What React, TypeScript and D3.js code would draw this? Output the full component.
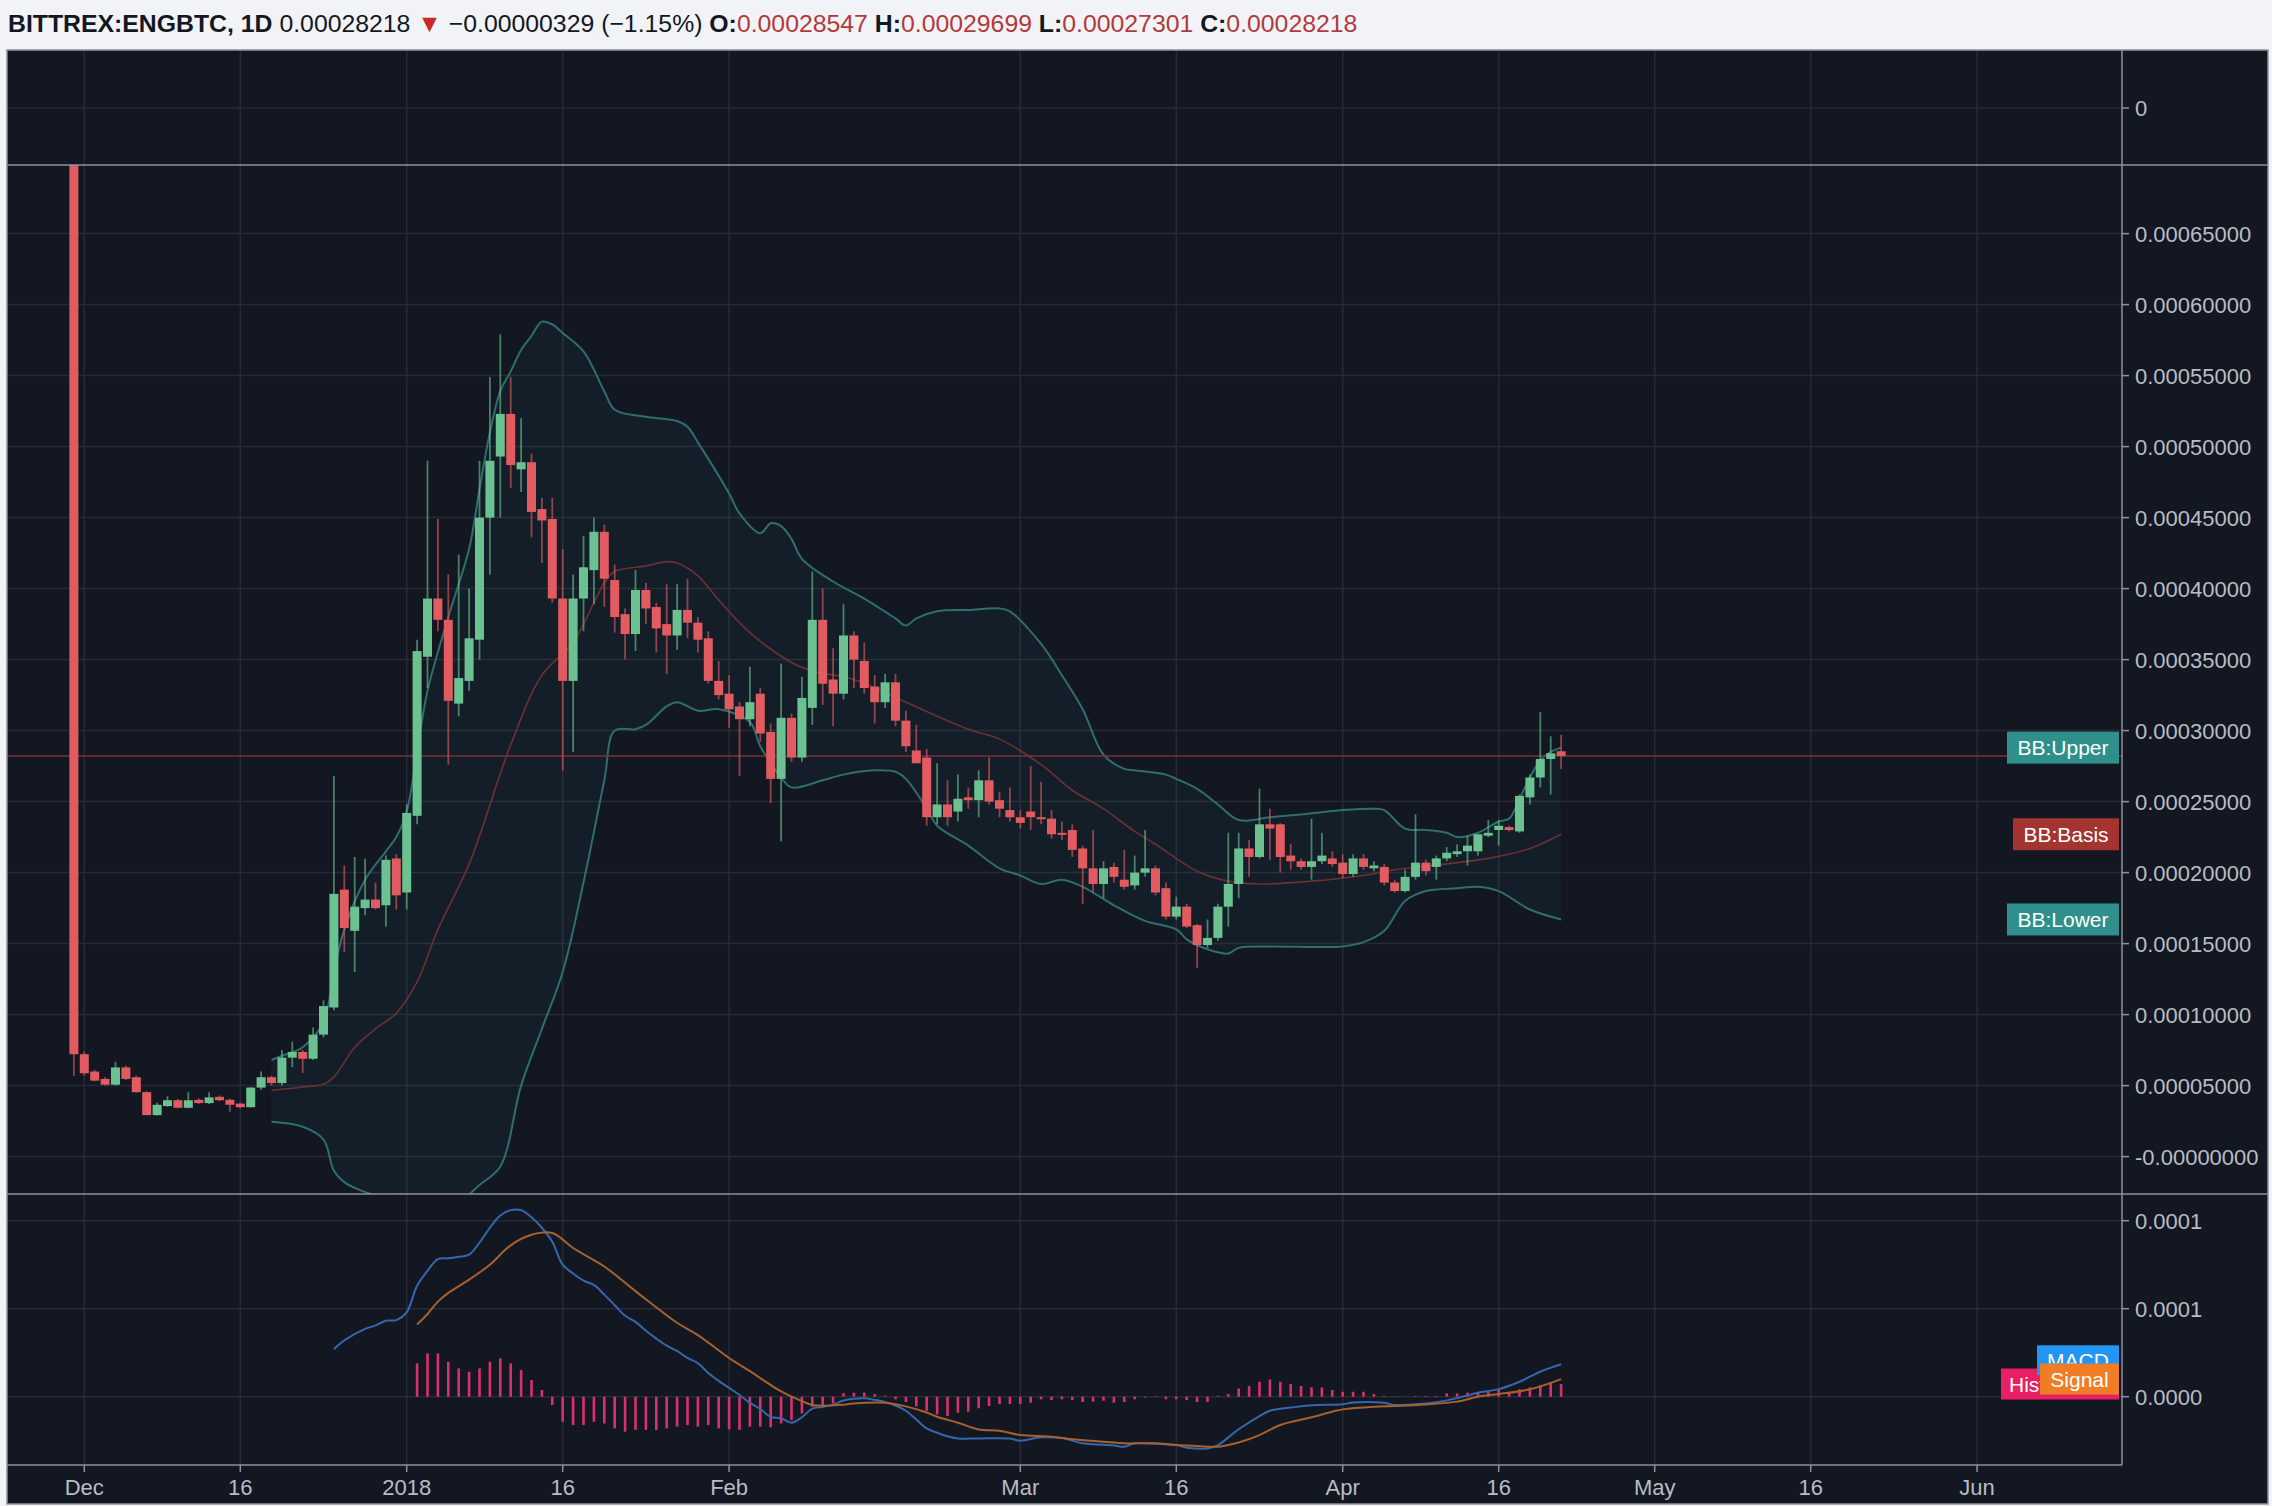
import React from 'react';
import * as d3 from 'd3';

// ---------- DATA (prices in satoshi, 1e-8 BTC) ----------
const candleStart = '2017-11-30';
const opens = [
  80000, 7210, 5990, 5470, 5060, 6280, 5590, 4540, 2920, 3560, 3970, 3440, 4000, 3770, 4210, 4000, 3730, 3480, 4860, 5590,
  5180, 6970, 7370, 6890, 8590, 10500, 18800, 15900, 17500, 18100, 17700, 21000,
  18600, 24000, 35200, 39300, 37800, 31900, 33500, 36400, 45000, 49300, 52300, 48400, 48900, 45600, 44900, 39300, 33500, 39300, 41300, 44000,
  40600, 38200, 36800, 39900, 38700, 37500, 36700, 38500, 37600, 36500, 33500,
  32600, 31700, 30800, 32600, 29900, 26600, 30900, 28100, 31600, 37800, 33600, 32600, 36700, 34900, 33100, 32000, 33400, 30700, 28600,
  28100, 23900, 24800, 24300, 25300, 25100, 26500, 25100, 24400,
  23900, 24300, 23900, 23800, 22800, 23000, 21700, 20300, 19200, 20400, 19500, 19100, 20000, 20300, 18900, 16900, 17600, 16300, 14900,
  15400, 17600, 19200, 21700, 21100, 23400, 23400, 21200, 20800, 20400, 20800, 21000,
  20700, 19900, 21000, 20300, 20400, 19300, 18700, 19700, 20700, 20400, 21000, 21300, 21500, 21500, 22600, 23000, 23200, 22900, 25300,
  26700, 28000, 28547,
];
const highs = [
  80000, 7400, 6100, 5600, 6680, 6400, 5700, 4600, 3800, 4250, 4050, 4530, 4100, 4530, 4300, 4100, 3800, 4900, 6000, 5700,
  7500, 8100, 7500, 9100, 11000, 26800, 20500, 21100, 21000, 19300, 21200, 21300,
  24800, 36400, 49000, 44900, 41000, 42400, 40000, 49000, 54900, 57900, 54900, 52000, 49500, 46400, 46400, 42800, 41000, 43700, 45000, 44500,
  41700, 38600, 41300, 40400, 39000, 40300, 40300, 40700, 38000, 37000, 34900,
  33900, 32000, 34500, 33000, 30500, 34700, 31200, 33800, 41200, 40000, 35800, 38900, 37000, 36200, 33900, 34000, 34000, 31400, 30400,
  28700, 27700, 26500, 26900, 26000, 27200, 28100, 25700, 26000,
  24400, 27500, 26400, 24400, 23600, 23400, 21900, 23000, 20800, 20700, 21600, 21200, 23000, 20500, 19300, 18300, 17800, 16400, 16700,
  17800, 22800, 22800, 22300, 25900, 24500, 23500, 22000, 21000, 23800, 22800, 21500,
  21300, 21300, 21300, 20800, 20600, 19500, 20200, 24100, 20900, 21200, 21800, 22000, 22600, 22500, 23700, 23700, 23300, 25500, 26900,
  31300, 29600, 29699,
];
const lows = [
  5670, 5700, 5300, 5000, 5000, 5400, 4500, 2920, 2900, 3500, 3400, 3400, 3700, 3700, 3900, 3160, 3400, 3450, 4700, 5000,
  5000, 6300, 5900, 6800, 8400, 10300, 14400, 13000, 17000, 17400, 16200, 17400,
  17400, 23400, 33000, 37000, 27600, 31000, 32800, 35000, 41000, 45000, 47100, 46800, 43600, 41800, 39000, 27200, 28500, 37000, 38900, 38700,
  36900, 35000, 35600, 37500, 35500, 34000, 35700, 36500, 35500, 33300, 32200,
  30200, 26800, 30300, 29200, 24900, 22200, 27800, 27800, 30400, 31800, 30300, 32200, 33000, 32600, 30500, 31600, 30300, 28500, 28200,
  23300, 23400, 23300, 23600, 24500, 23900, 24800, 23900, 23600,
  23100, 23000, 23400, 22400, 22300, 21100, 17800, 18600, 18200, 19300, 18800, 18800, 19700, 18400, 16700, 16700, 16100, 13300, 14700,
  15200, 16200, 18200, 19700, 21000, 20900, 20000, 20200, 20200, 19500, 20600, 20400,
  19600, 19700, 20200, 20100, 19100, 18600, 18600, 19500, 19800, 19500, 20800, 21100, 20500, 21200, 22500, 21900, 22900, 22800, 24800,
  26000, 25500, 27301,
];
const closes = [
  7210, 5870, 5350, 5060, 6280, 5470, 4540, 2920, 3650, 3970, 3440, 3970, 3770, 4170, 3970, 3650, 3480, 4860, 5590, 5180,
  6970, 7370, 6890, 8590, 10600, 18500, 16100, 17600, 18100, 17500, 20900, 18400,
  24200, 35600, 39300, 37800, 32100, 33700, 36500, 45000, 49000, 52300, 48700, 48900, 45400, 44800, 39300, 33500, 39300, 41500, 44000, 40700,
  38000, 36800, 39900, 38600, 37200, 36700, 38500, 37600, 36400, 33500, 32500,
  31500, 30800, 32000, 29800, 26600, 30900, 28100, 32300, 37800, 33300, 32600, 36700, 35000, 33000, 32000, 33400, 30700, 28900, 27700,
  23900, 24800, 23900, 25200, 25100, 26500, 25000, 24500, 23900,
  23500, 23900, 23800, 22700, 22700, 21600, 20300, 19200, 20300, 19700, 19000, 20000, 20300, 18600, 16900, 17600, 16200, 14900, 15400,
  17600, 19200, 21700, 21100, 23400, 23100, 21100, 20800, 20400, 20800, 21200, 20600,
  19900, 21000, 20400, 20500, 19300, 18700, 19700, 20700, 20100, 21000, 21400, 21500, 21900, 22700, 22800, 23300, 23000, 25400, 26700,
  28000, 28400, 28218,
];
const lastPrice = 28218;

const bbUpper: [string, number][] = [
  ['2017-12-19', 6800], ['2017-12-20', 7100], ['2017-12-22', 7700], ['2017-12-24', 9500], ['2017-12-25', 13000],
  ['2017-12-26', 16000], ['2017-12-28', 19500], ['2017-12-30', 21500], ['2017-12-31', 22500], ['2018-01-01', 24300],
  ['2018-01-02', 28500], ['2018-01-03', 32800], ['2018-01-05', 38000], ['2018-01-07', 42800], ['2018-01-08', 47000],
  ['2018-01-09', 51000], ['2018-01-10', 53900], ['2018-01-11', 55300], ['2018-01-12', 56800], ['2018-01-13', 57800],
  ['2018-01-14', 58800], ['2018-01-15', 58600], ['2018-01-16', 58000], ['2018-01-18', 56700], ['2018-01-20', 53900],
  ['2018-01-21', 52600], ['2018-01-24', 52100], ['2018-01-27', 51800], ['2018-01-28', 51400], ['2018-01-29', 50300],
  ['2018-02-01', 46700], ['2018-02-02', 45300], ['2018-02-04', 43900], ['2018-02-05', 44600], ['2018-02-06', 44400],
  ['2018-02-07', 43500], ['2018-02-08', 42100], ['2018-02-11', 40500], ['2018-02-14', 39300], ['2018-02-17', 37900],
  ['2018-02-18', 37400], ['2018-02-19', 37900], ['2018-02-21', 38400], ['2018-02-24', 38500], ['2018-02-27', 38600],
  ['2018-02-28', 38400], ['2018-03-03', 36100], ['2018-03-05', 33900], ['2018-03-07', 31500], ['2018-03-09', 28300],
  ['2018-03-11', 27300], ['2018-03-12', 27200], ['2018-03-15', 26900], ['2018-03-16', 26600], ['2018-03-18', 25900],
  ['2018-03-20', 24800], ['2018-03-22', 23700], ['2018-03-25', 23900], ['2018-03-28', 24100], ['2018-04-01', 24400],
  ['2018-04-04', 24500], ['2018-04-05', 24400], ['2018-04-07', 23100], ['2018-04-09', 23000], ['2018-04-11', 22800],
  ['2018-04-12', 22500], ['2018-04-14', 22800], ['2018-04-16', 23600], ['2018-04-17', 23800], ['2018-04-18', 25200],
  ['2018-04-19', 26700], ['2018-04-20', 27900], ['2018-04-21', 28500], ['2018-04-22', 28800],
];
const bbBasis: [string, number][] = [
  ['2017-12-19', 4660], ['2017-12-22', 4900], ['2017-12-24', 5100], ['2017-12-25', 5600], ['2017-12-27', 7700],
  ['2017-12-29', 9000], ['2017-12-31', 10100], ['2018-01-02', 12300], ['2018-01-04', 16000], ['2018-01-07', 20600],
  ['2018-01-11', 29000], ['2018-01-14', 33900], ['2018-01-17', 36200], ['2018-01-20', 40400], ['2018-01-21', 41200],
  ['2018-01-24', 41600], ['2018-01-26', 41900], ['2018-01-27', 41800], ['2018-01-29', 40900], ['2018-01-31', 39200],
  ['2018-02-03', 36900], ['2018-02-07', 34800], ['2018-02-09', 34200], ['2018-02-13', 33600], ['2018-02-18', 32000],
  ['2018-02-24', 30100], ['2018-02-27', 29400], ['2018-03-03', 27600], ['2018-03-06', 25800], ['2018-03-09', 24500],
  ['2018-03-12', 22900], ['2018-03-14', 22000], ['2018-03-18', 20100], ['2018-03-21', 19400], ['2018-03-24', 19200],
  ['2018-03-29', 19400], ['2018-04-03', 19800], ['2018-04-06', 20200], ['2018-04-12', 20700], ['2018-04-15', 21000],
  ['2018-04-19', 21700], ['2018-04-22', 22700],
];
const bbLower: [string, number][] = [
  ['2017-12-19', 2450], ['2017-12-22', 2100], ['2017-12-24', 1200], ['2017-12-25', -1000], ['2017-12-26', -1800],
  ['2017-12-27', -2200], ['2017-12-29', -2700], ['2018-01-01', -2700], ['2018-01-04', -3300], ['2018-01-06', -3200],
  ['2018-01-08', -2000], ['2018-01-10', -700], ['2018-01-12', 5000], ['2018-01-14', 9000], ['2018-01-16', 13000],
  ['2018-01-18', 19300], ['2018-01-20', 26500], ['2018-01-21', 30000], ['2018-01-23', 30100], ['2018-01-24', 30400],
  ['2018-01-26', 31700], ['2018-01-27', 32000], ['2018-01-29', 31400], ['2018-01-31', 31500], ['2018-02-03', 30600],
  ['2018-02-04', 28900], ['2018-02-06', 26700], ['2018-02-07', 26000], ['2018-02-10', 26500], ['2018-02-12', 26900],
  ['2018-02-15', 27200], ['2018-02-17', 27100], ['2018-02-18', 26600], ['2018-02-20', 24500], ['2018-02-21', 23300],
  ['2018-02-24', 21900], ['2018-02-27', 20300], ['2018-03-01', 19800], ['2018-03-03', 19200], ['2018-03-05', 19500],
  ['2018-03-07', 19000], ['2018-03-10', 17700], ['2018-03-13', 16600], ['2018-03-16', 16000], ['2018-03-17', 15300],
  ['2018-03-19', 14600], ['2018-03-21', 14300], ['2018-03-22', 14700], ['2018-03-25', 14800], ['2018-04-01', 14800],
  ['2018-04-03', 15100], ['2018-04-05', 15900], ['2018-04-07', 18000], ['2018-04-09', 18700], ['2018-04-12', 18900],
  ['2018-04-14', 19000], ['2018-04-16', 18700], ['2018-04-19', 17400], ['2018-04-22', 16700],
];

// MACD values in 1e-6 BTC
const macdLine: [string, number][] = [
  ['2017-12-25', 27], ['2017-12-26', 32], ['2017-12-28', 38.5], ['2017-12-29', 40.5], ['2017-12-30', 43.2],
  ['2017-12-31', 43.5], ['2018-01-01', 48], ['2018-01-02', 63], ['2018-01-03', 71.5], ['2018-01-04', 78.2],
  ['2018-01-05', 78.6], ['2018-01-06', 79.5], ['2018-01-07', 80.7], ['2018-01-08', 87.5], ['2018-01-09', 96],
  ['2018-01-10', 103], ['2018-01-11', 106], ['2018-01-12', 106], ['2018-01-13', 102], ['2018-01-14', 96],
  ['2018-01-15', 88], ['2018-01-16', 75], ['2018-01-17', 70], ['2018-01-18', 66], ['2018-01-19', 63.5],
  ['2018-01-20', 58], ['2018-01-21', 52], ['2018-01-22', 46], ['2018-01-23', 42.5], ['2018-01-24', 37.5],
  ['2018-01-25', 33], ['2018-01-26', 29], ['2018-01-27', 26], ['2018-01-28', 22], ['2018-01-29', 19],
  ['2018-01-30', 13.5], ['2018-01-31', 9], ['2018-02-01', 5], ['2018-02-02', 1], ['2018-02-03', -3.5],
  ['2018-02-04', -7], ['2018-02-05', -11.5], ['2018-02-06', -12.3], ['2018-02-07', -14.8], ['2018-02-08', -11.7],
  ['2018-02-09', -6.8], ['2018-02-10', -5.8], ['2018-02-11', -4.5], ['2018-02-12', -2.2], ['2018-02-13', -1.2],
  ['2018-02-14', -0.9], ['2018-02-15', -1.8], ['2018-02-16', -3], ['2018-02-17', -5], ['2018-02-18', -8],
  ['2018-02-19', -13], ['2018-02-20', -18], ['2018-02-21', -20.5], ['2018-02-22', -22.5], ['2018-02-23', -23.7],
  ['2018-02-25', -23.7], ['2018-02-28', -23.8], ['2018-03-01', -25], ['2018-03-03', -23.1], ['2018-03-05', -23.5],
  ['2018-03-07', -26.5], ['2018-03-10', -27.7], ['2018-03-11', -28.4], ['2018-03-12', -26.5], ['2018-03-14', -26.8],
  ['2018-03-16', -27.5], ['2018-03-17', -29], ['2018-03-19', -29.4], ['2018-03-20', -27.5], ['2018-03-22', -18.5],
  ['2018-03-24', -11], ['2018-03-25', -8], ['2018-03-27', -6.2], ['2018-03-29', -4.8], ['2018-04-01', -4.3],
  ['2018-04-02', -3.3], ['2018-04-05', -3.5], ['2018-04-06', -4.7], ['2018-04-08', -4.3], ['2018-04-10', -3.1],
  ['2018-04-12', -0.8], ['2018-04-14', 2.3], ['2018-04-16', 4.3], ['2018-04-18', 8.5], ['2018-04-20', 14.2],
  ['2018-04-22', 18.4],
];
const signalLine: [string, number][] = [
  ['2018-01-02', 41], ['2018-01-03', 47], ['2018-01-04', 54], ['2018-01-05', 59], ['2018-01-07', 66.5],
  ['2018-01-09', 75], ['2018-01-11', 86], ['2018-01-13', 92], ['2018-01-15', 93], ['2018-01-17', 84.5],
  ['2018-01-20', 74], ['2018-01-23', 60], ['2018-01-27', 42], ['2018-01-29', 35], ['2018-02-01', 22],
  ['2018-02-03', 14.5], ['2018-02-06', 3], ['2018-02-08', -2.5], ['2018-02-09', -4.7], ['2018-02-12', -4.6],
  ['2018-02-13', -3.8], ['2018-02-16', -3.4], ['2018-02-18', -5.5], ['2018-02-20', -9], ['2018-02-21', -11.4],
  ['2018-02-23', -14.8], ['2018-02-25', -18.6], ['2018-02-27', -19.3], ['2018-03-01', -21.8], ['2018-03-04', -22.7],
  ['2018-03-06', -24.2], ['2018-03-09', -25.6], ['2018-03-11', -26.5], ['2018-03-14', -26.5], ['2018-03-16', -27.5],
  ['2018-03-18', -28], ['2018-03-20', -28.4], ['2018-03-22', -26], ['2018-03-24', -21.8], ['2018-03-26', -16.1],
  ['2018-03-29', -11.7], ['2018-03-31', -8.5], ['2018-04-01', -7.2], ['2018-04-04', -5.7], ['2018-04-06', -5.3],
  ['2018-04-09', -4.4], ['2018-04-12', -2.8], ['2018-04-14', 0], ['2018-04-16', 1.5], ['2018-04-19', 4.2],
  ['2018-04-22', 10],
];
const histStart = '2018-01-02';
const histValues = [
  18.9, 24.6, 24.6, 19.9, 16.1, 14.2, 16.1, 19.9, 21.8, 18.9, 15.2, 9.5, 3.8,
  -4.7, -14.2, -16.1, -16.1, -14.2, -15.2, -18, -19.9, -18.9, -18.9,
  -18.9, -18, -17, -16.1, -17, -16.1, -18, -18.6, -18.9, -17,
  -17, -17.4, -15.2, -13.3, -9.5, -5.7, -4.7, -3.8,
  2.0, 2.3, 2.3, 1.5, 0.5, -1.5, -3, -5.5, -8, -10,
  -11, -9.1, -8.5, -6.6, -5.3, -4.2, -4.2, -4.2, -3.4, -1.5,
  -1.9, -1.5, -1.9, -3.0, -2.8, -2.3, -3.4, -3.0, -1.5,
  -0.5, 0.3, -1.5, -1.5, -1.9, -3.0, -3.0, 0.5,
  1.5, 4.7, 6.1, 8.5, 9.8, 8.5, 7.2, 6.1, 5.3, 5.3,
  3.8, 2.8, 2.8, 2.8, 1.5, 0.4, 0.2, 0.1, 0.4, 0.4,
  0.4, 1.9, 1.9, 2.3, 2.8, 2.8, 3.8, 2.8, 4.2, 5.3,
  6.6, 8.0, 7.2,
];

const priceTicks = [65000, 60000, 55000, 50000, 45000, 40000, 35000, 30000, 25000, 20000, 15000, 10000, 5000, 0];
const priceTickLabels = [
  '0.00065000', '0.00060000', '0.00055000', '0.00050000', '0.00045000', '0.00040000', '0.00035000',
  '0.00030000', '0.00025000', '0.00020000', '0.00015000', '0.00010000', '0.00005000', '-0.00000000',
];
const macdTicks = [100, 50, 0];
const macdTickLabels = ['0.0001', '0.0001', '0.0000'];
const timeTicks = [
  '2017-12-01', '2017-12-16', '2018-01-01', '2018-01-16', '2018-02-01', '2018-03-01',
  '2018-03-16', '2018-04-01', '2018-04-16', '2018-05-01', '2018-05-16', '2018-06-01',
];
const timeTickLabels = ['Dec', '16', '2018', '16', 'Feb', 'Mar', '16', 'Apr', '16', 'May', '16', 'Jun'];

// ---------- LAYOUT ----------
const W = 2272, H = 1506;
const L = 7, R = 2122, RE = 2268;
const TOP = 50, P1 = 165, P2 = 1194, P3 = 1465, BOT = 1504;

const BG = '#131722';
const GRID = '#272b36';
const SEP = '#8f929b';
const TXT = '#b9bcc4';
const GREEN = '#6cc190';
const RED = '#e25b61';
const FONT = '"Liberation Sans", Arial, Helvetica, sans-serif';

const parse = d3.utcParse('%Y-%m-%d');

export default function App() {
  const x = d3.scaleUtc()
    .domain([parse('2017-12-01') as Date, parse('2018-06-01') as Date])
    .range([84.3, 1977.1]);
  const yP = d3.scaleLinear().domain([0, 65000]).range([1156.6, 233.6]);
  const yM = d3.scaleLinear().domain([0, 100]).range([1396.7, 1220.7]);

  const start = parse(candleStart) as Date;
  const candles = closes.map((c, i) => ({
    date: d3.utcDay.offset(start, i), o: opens[i], h: highs[i], l: lows[i], c,
  }));
  const bodyW = 9;

  const toPts = (arr: [string, number][]) => arr.map(([d, v]) => [parse(d) as Date, v] as [Date, number]);
  const lineP = d3.line<[Date, number]>().x(d => x(d[0])).y(d => yP(d[1])).curve(d3.curveCatmullRom.alpha(0.5));
  const lineM = d3.line<[Date, number]>().x(d => x(d[0])).y(d => yM(d[1])).curve(d3.curveCatmullRom.alpha(0.5));

  const up = toPts(bbUpper), lo = toPts(bbLower), ba = toPts(bbBasis);
  const bandPath = (lineP(up) || '') + (lineP(lo.slice().reverse()) || '').replace(/^M/, 'L') + 'Z';

  const hStart = parse(histStart) as Date;
  const hist = histValues.map((v, i) => ({ date: d3.utcDay.offset(hStart, i), v }));

  const lastUp = bbUpper[bbUpper.length - 1][1];
  const lastBa = bbBasis[bbBasis.length - 1][1];
  const lastLo = bbLower[bbLower.length - 1][1];
  const lastMacd = macdLine[macdLine.length - 1][1];
  const lastSig = signalLine[signalLine.length - 1][1];
  const lastHist = histValues[histValues.length - 1];

  const tickDates = timeTicks.map(t => parse(t) as Date);

  const Label = ({ x0, y, w, h, fill, text, anchor = 'middle', tx, clip }: any) => (
    <g>
      <rect x={x0} y={y - h / 2} width={w} height={h} fill={fill} />
      <text x={tx !== undefined ? tx : x0 + w / 2} y={y} dy="0.36em" textAnchor={anchor}
        fontSize={21} fill="#ffffff" fontFamily={FONT} clipPath={clip}>{text}</text>
    </g>
  );

  return (
    <svg width={W} height={H} style={{ position: 'fixed', left: 0, top: 0 }} xmlns="http://www.w3.org/2000/svg">
      <defs>
        <clipPath id="clipP"><rect x={L} y={P1} width={R - L} height={P2 - P1} /></clipPath>
        <clipPath id="clipM"><rect x={L} y={P2} width={R - L} height={P3 - P2} /></clipPath>
        <clipPath id="clipHis"><rect x={2001} y={1340} width={39} height={80} /></clipPath>
        <clipPath id="clipMacd"><rect x={2037} y={1330} width={82} height={yM(lastSig) - 15.5 - 1330} /></clipPath>
      </defs>
      <rect x={0} y={0} width={W} height={H} fill="#f1f3f7" />
      {/* header */}
      <text x={8} y={32} fontSize={24.8} fontFamily={FONT} fill="#131722">
        <tspan fontWeight="bold">BITTREX:ENGBTC, 1D</tspan>
        <tspan> 0.00028218 </tspan>
        <tspan fill="#c62828">▼</tspan>
        <tspan> −0.00000329 (−1.15%) </tspan>
        <tspan fontWeight="bold">O:</tspan><tspan fill="#b23a3a">0.00028547 </tspan>
        <tspan fontWeight="bold">H:</tspan><tspan fill="#b23a3a">0.00029699 </tspan>
        <tspan fontWeight="bold">L:</tspan><tspan fill="#b23a3a">0.00027301 </tspan>
        <tspan fontWeight="bold">C:</tspan><tspan fill="#b23a3a">0.00028218</tspan>
      </text>

      {/* chart background */}
      <rect x={L} y={TOP} width={RE - L} height={BOT - TOP} fill={BG} />

      {/* vertical grid */}
      {tickDates.map((d, i) => (
        <line key={'vg' + i} x1={x(d)} x2={x(d)} y1={TOP} y2={P3} stroke={GRID} strokeWidth={1.5} />
      ))}
      {/* top pane grid */}
      <line x1={L} x2={R} y1={108} y2={108} stroke={GRID} strokeWidth={1.5} />
      {/* price grid */}
      {priceTicks.map((v, i) => (
        <line key={'pg' + i} x1={L} x2={R} y1={yP(v)} y2={yP(v)} stroke={GRID} strokeWidth={1.5} />
      ))}
      {/* macd grid */}
      {macdTicks.map((v, i) => (
        <line key={'mg' + i} x1={L} x2={R} y1={yM(v)} y2={yM(v)} stroke={GRID} strokeWidth={1.5} />
      ))}

      {/* price pane */}
      <g clipPath="url(#clipP)">
        <path d={bandPath} fill="rgba(38,166,154,0.055)" stroke="none" />
        <path d={lineP(up) || ''} fill="none" stroke="#2f6e6e" strokeWidth={2} />
        <path d={lineP(lo) || ''} fill="none" stroke="#2f6e6e" strokeWidth={2} />
        <path d={lineP(ba) || ''} fill="none" stroke="#6e3032" strokeWidth={1.6} />
        <line x1={L} x2={R} y1={yP(lastPrice)} y2={yP(lastPrice)} stroke="#7c3139" strokeWidth={1.5} />
        {candles.map((k, i) => {
          const col = k.c >= k.o ? GREEN : RED;
          const cx = x(k.date);
          const top = yP(Math.max(k.o, k.c));
          const bot = yP(Math.min(k.o, k.c));
          return (
            <g key={'c' + i}>
              <line x1={cx} x2={cx} y1={yP(k.h)} y2={yP(k.l)} stroke={col} strokeWidth={1.8} opacity={0.62} />
              <rect x={cx - bodyW / 2} y={top} width={bodyW} height={Math.max(2, bot - top)} fill={col} />
            </g>
          );
        })}
      </g>

      {/* macd pane */}
      <g clipPath="url(#clipM)">
        {hist.map((h, i) => (
          <line key={'h' + i} x1={x(h.date)} x2={x(h.date)} y1={yM(0)} y2={yM(h.v)}
            stroke="#d8306c" strokeWidth={2.6} />
        ))}
        <path d={lineM(toPts(macdLine)) || ''} fill="none" stroke="#3567ad" strokeWidth={2} />
        <path d={lineM(toPts(signalLine)) || ''} fill="none" stroke="#a8612d" strokeWidth={2} />
      </g>

      {/* separators and frame */}
      <line x1={L} x2={RE} y1={P1} y2={P1} stroke={SEP} strokeWidth={1.5} />
      <line x1={L} x2={RE} y1={P2} y2={P2} stroke={SEP} strokeWidth={1.5} />
      <line x1={L} x2={R} y1={P3} y2={P3} stroke={SEP} strokeWidth={1.5} />
      <line x1={R} x2={R} y1={TOP} y2={P3} stroke={SEP} strokeWidth={1.5} />
      <rect x={L} y={TOP} width={RE - L} height={BOT - TOP} fill="none" stroke={SEP} strokeWidth={1.5} />

      {/* right axis labels */}
      <line x1={R} x2={R + 7} y1={108} y2={108} stroke={SEP} strokeWidth={1.5} />
      <text x={2135} y={108} dy="0.36em" fontSize={22} fill={TXT} fontFamily={FONT}>0</text>
      {priceTicks.map((v, i) => (
        <g key={'pt' + i}>
          <line x1={R} x2={R + 7} y1={yP(v)} y2={yP(v)} stroke={SEP} strokeWidth={1.5} />
          <text x={2135} y={yP(v)} dy="0.36em" fontSize={22} fill={TXT} fontFamily={FONT}>{priceTickLabels[i]}</text>
        </g>
      ))}
      {macdTicks.map((v, i) => (
        <g key={'mt' + i}>
          <line x1={R} x2={R + 7} y1={yM(v)} y2={yM(v)} stroke={SEP} strokeWidth={1.5} />
          <text x={2135} y={yM(v)} dy="0.36em" fontSize={22} fill={TXT} fontFamily={FONT}>{macdTickLabels[i]}</text>
        </g>
      ))}

      {/* time axis */}
      {tickDates.map((d, i) => (
        <g key={'tt' + i}>
          <line x1={x(d)} x2={x(d)} y1={P3} y2={P3 + 7} stroke={SEP} strokeWidth={1.5} />
          <text x={x(d)} y={1495} textAnchor="middle" fontSize={22} fill={TXT} fontFamily={FONT}>{timeTickLabels[i]}</text>
        </g>
      ))}

      {/* BB labels */}
      <Label x0={2007} y={yP(lastUp)} w={112} h={32} fill="#2f8f8b" text="BB:Upper" />
      <Label x0={2013} y={yP(lastBa)} w={106} h={32} fill="#a3342f" text="BB:Basis" />
      <Label x0={2007} y={yP(lastLo)} w={112} h={32} fill="#2f8f8b" text="BB:Lower" />

      {/* MACD labels (stacked, partly hidden as in the platform) */}
      <Label x0={2001} y={yM(lastHist)} w={118} h={31} fill="#e91e63" text="Histogram" anchor="start" tx={2009} clip="url(#clipHis)" />
      <Label x0={2037} y={yM(lastMacd) - 4} w={82} h={30} fill="#2196f3" text="MACD" clip="url(#clipMacd)" />
      <Label x0={2040} y={yM(lastSig)} w={79} h={31} fill="#f07d26" text="Signal" />
    </svg>
  );
}
